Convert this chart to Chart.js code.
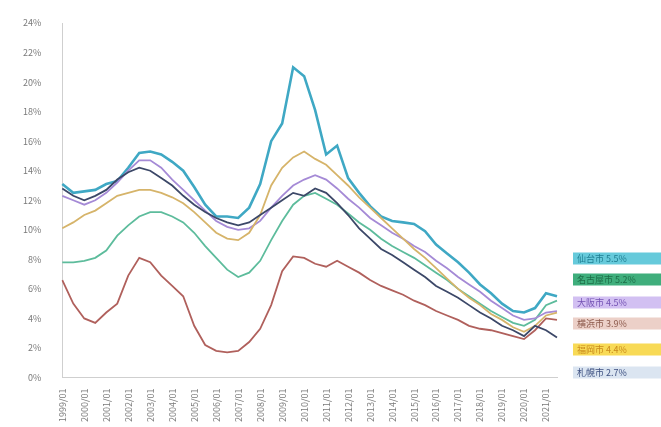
<!DOCTYPE html>
<html lang="ja">
<head>
<meta charset="utf-8">
<title>空室率の推移</title>
<script src="https://cdn.jsdelivr.net/npm/chart.js@4/dist/chart.umd.min.js"></script>
<style>
  html, body { margin: 0; padding: 0; background: #fff; }
  #wrap { width: 661px; height: 427px; position: relative; }
</style>
</head>
<body>
<div id="wrap"><canvas id="vacancy-chart"></canvas></div>
<script>
// half-yearly points, 1999/01 .. 2021/07
const periods = [];
for (let y = 1999; y <= 2021; y++) {
  periods.push(y + "/01", y + "/07");
}

const cities = ["仙台市", "名古屋市", "大阪市", "横浜市", "福岡市", "札幌市"];

const sendai = [13.1, 12.5, 12.6, 12.7, 13.1, 13.3, 14.2, 15.2, 15.3, 15.1, 14.6, 14.0, 12.9, 11.7, 10.9, 10.9,
  10.8, 11.5, 13.1, 16.0, 17.2, 21.0, 20.4, 18.1, 15.1, 15.7, 13.5, 12.5, 11.6, 10.9, 10.6, 10.5,
  10.4, 9.9, 9.0, 8.4, 7.8, 7.1, 6.3, 5.7, 5.0, 4.5, 4.4, 4.7, 5.7, 5.5];
const nagoya = [7.8, 7.8, 7.9, 8.1, 8.6, 9.6, 10.3, 10.9, 11.2, 11.2, 10.9, 10.5, 9.8, 8.9, 8.1, 7.3,
  6.8, 7.1, 7.9, 9.3, 10.6, 11.7, 12.3, 12.5, 12.1, 11.7, 11.1, 10.5, 10.0, 9.4, 8.9, 8.5,
  8.1, 7.6, 7.1, 6.6, 6.0, 5.5, 5.0, 4.5, 4.1, 3.7, 3.5, 3.9, 4.9, 5.2];
const osaka = [12.3, 12.0, 11.7, 12.0, 12.5, 13.2, 14.0, 14.7, 14.7, 14.2, 13.4, 12.7, 12.0, 11.3, 10.6, 10.2,
  10.0, 10.1, 10.6, 11.5, 12.3, 13.0, 13.4, 13.7, 13.4, 12.8, 12.1, 11.5, 10.8, 10.3, 9.8, 9.4,
  8.9, 8.5, 7.9, 7.4, 6.8, 6.3, 5.8, 5.2, 4.7, 4.2, 3.9, 4.0, 4.4, 4.5];
const yokohama = [6.6, 5.0, 4.0, 3.7, 4.4, 5.0, 6.9, 8.1, 7.8, 6.9, 6.2, 5.5, 3.5, 2.2, 1.8, 1.7,
  1.8, 2.4, 3.3, 4.9, 7.2, 8.2, 8.1, 7.7, 7.5, 7.9, 7.5, 7.1, 6.6, 6.2, 5.9, 5.6,
  5.2, 4.9, 4.5, 4.2, 3.9, 3.5, 3.3, 3.2, 3.0, 2.8, 2.6, 3.2, 4.0, 3.9];
const fukuoka = [10.1, 10.5, 11.0, 11.3, 11.8, 12.3, 12.5, 12.7, 12.7, 12.5, 12.2, 11.8, 11.2, 10.5, 9.8, 9.4,
  9.3, 9.8, 11.0, 13.0, 14.2, 14.9, 15.3, 14.8, 14.4, 13.7, 13.0, 12.2, 11.5, 10.8, 10.1, 9.4,
  8.7, 8.1, 7.4, 6.7, 6.0, 5.4, 4.9, 4.3, 3.9, 3.4, 3.1, 3.5, 4.2, 4.4];
const sapporo = [12.8, 12.3, 12.0, 12.3, 12.7, 13.4, 13.9, 14.2, 14.0, 13.5, 13.0, 12.3, 11.7, 11.2, 10.8, 10.5,
  10.3, 10.5, 11.0, 11.5, 12.0, 12.5, 12.3, 12.8, 12.5, 11.8, 11.0, 10.1, 9.4, 8.7, 8.3, 7.8,
  7.3, 6.8, 6.2, 5.8, 5.4, 4.9, 4.4, 4.0, 3.5, 3.2, 2.8, 3.5, 3.2, 2.7];

const lineColors = ["#3fa8c4", "#5dbc9c", "#a58ad6", "#b0605c", "#d6b46a", "#3c4868"];
const tagFill = ["#66cadb", "#3fae7c", "#d2c0f2", "#ecd0c8", "#f8da56", "#dbe5f1"];
const tagText = ["#1f7f92", "#1d6e48", "#7452b4", "#8c5a4c", "#c98a1c", "#3d5080"];
const widths = [2.6, 1.8, 1.8, 1.8, 1.8, 1.8];

const seriesList = [sendai, nagoya, osaka, yokohama, fukuoka, sapporo];

// tags on the right: city name and latest value
const endTags = {
  id: "endTags",
  afterDraw(chart) {
    const { ctx, chartArea } = chart;
    const x = chartArea.right + 16;
    const w = 88;
    const offsets = [119, 98, 75, 54, 28, 5];
    ctx.save();
    ctx.font = "9px 'Noto Sans CJK JP'";
    ctx.textBaseline = "middle";
    seriesList.forEach((s, i) => {
      const cy = chartArea.bottom - offsets[i];
      const txt = cities[i] + " " + s[s.length - 1].toFixed(1) + "%";
      ctx.fillStyle = tagFill[i];
      ctx.fillRect(x, cy - 6, w, 12);
      ctx.fillStyle = tagText[i];
      ctx.fillText(txt, x + 4, cy + 0.5);
    });
    ctx.restore();
  }
};

new Chart(document.getElementById("vacancy-chart"), {
  type: "line",
  data: {
    labels: periods,
    datasets: seriesList.map((s, i) => ({
      label: cities[i],
      data: s,
      borderColor: lineColors[i],
      borderWidth: widths[i],
      pointRadius: 0,
      tension: 0,
      fill: false
    })).reverse()
  },
  options: {
    responsive: true,
    maintainAspectRatio: false,
    animation: false,
    layout: { padding: { top: 23, right: 104, left: 10, bottom: 2 } },
    plugins: {
      legend: { display: false },
      tooltip: { enabled: false }
    },
    scales: {
      x: {
        grid: { display: false },
        border: { color: "#cfcfcf" },
        ticks: {
          autoSkip: false,
          minRotation: 90,
          maxRotation: 90,
          color: "#7a7a7a",
          font: { size: 9, family: "'Noto Sans CJK JP'" },
          callback(value, index) {
            return index % 2 === 0 ? periods[index] : "";
          }
        }
      },
      y: {
        min: 0,
        max: 24,
        grid: { display: false },
        border: { color: "#cfcfcf" },
        ticks: {
          stepSize: 2,
          color: "#7a7a7a",
          font: { size: 9, family: "'Noto Sans CJK JP'" },
          padding: 13,
          callback: (v) => v + "%"
        }
      }
    }
  },
  plugins: [endTags]
});
</script>
</body>
</html>
